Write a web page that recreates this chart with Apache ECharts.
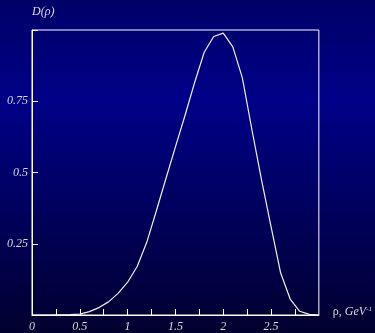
<!DOCTYPE html>
<html>
<head>
<meta charset="utf-8">
<script src="https://cdn.jsdelivr.net/npm/echarts@6/dist/echarts.min.js"></script>
<style>
  html, body { margin: 0; padding: 0; background: #000050; }
  #chart { width: 375px; height: 333px; }
</style>
</head>
<body>
<div id="chart"></div>
<script>
// rho values (GeV^-1) and the distribution D(rho)
var rhoValues = [0, 0.1, 0.2, 0.3, 0.4, 0.5, 0.6, 0.7, 0.8, 0.9, 1.0,
  1.1, 1.2, 1.3, 1.4, 1.5, 1.6, 1.7, 1.8, 1.9, 2.0,
  2.1, 2.2, 2.3, 2.4, 2.5, 2.6, 2.7, 2.8, 2.9, 3.0];
var dValues = [0, 0, 0, 0.0005, 0.001, 0.003, 0.012, 0.026, 0.046, 0.076, 0.115,
  0.17, 0.255, 0.365, 0.478, 0.59, 0.70, 0.815, 0.921, 0.977, 0.989,
  0.941, 0.832, 0.65, 0.475, 0.31, 0.148, 0.056, 0.013, 0.002, 0];
var yTicks = [0.25, 0.5, 0.75];

var chart = echarts.init(document.getElementById('chart'));
var serif = 'Liberation Serif';
var txtColor = '#dcdcdc';

var points = rhoValues.map(function (r, i) { return [r, dValues[i]]; });

chart.setOption({
  animation: false,
  backgroundColor: {
    type: 'linear', x: 0, y: 0, x2: 0, y2: 1,
    colorStops: [
      { offset: 0, color: '#000068' },
      { offset: 0.3, color: '#000088' },
      { offset: 1, color: '#00002e' }
    ]
  },
  grid: {
    left: 32, top: 30, right: 55, bottom: 16,
    show: true, borderColor: '#ffffff', borderWidth: 1,
    backgroundColor: 'transparent'
  },
  xAxis: {
    type: 'value', min: 0, max: 3, interval: 0.25,
    name: '{a|ρ, }{b|GeV}{c|-1}',
    nameLocation: 'end', nameGap: 14,
    nameTextStyle: {
      align: 'left', verticalAlign: 'middle', padding: [0, 0, 6, 0],
      rich: {
        a: { fontFamily: serif, fontSize: 12, color: txtColor },
        b: { fontFamily: serif, fontStyle: 'italic', fontSize: 12, color: txtColor },
        c: { fontFamily: serif, fontStyle: 'italic', fontSize: 7, color: txtColor, padding: [0, 0, 6, 0] }
      }
    },
    axisLine: { lineStyle: { color: '#ffffff', width: 1 } },
    axisTick: { inside: true, length: 6, lineStyle: { color: '#ffffff' } },
    axisLabel: {
      showMaxLabel: false, margin: 6,
      fontFamily: serif, fontStyle: 'italic', fontSize: 12, color: txtColor,
      formatter: function (v) { return (v % 0.5 === 0 && v < 3) ? String(v) : ''; }
    },
    splitLine: { show: false }
  },
  yAxis: {
    type: 'value', min: 0, max: 1, interval: 0.25,
    name: 'D(ρ)',
    nameLocation: 'end', nameGap: 12,
    nameTextStyle: { align: 'left', fontFamily: serif, fontStyle: 'italic', fontSize: 12, color: txtColor },
    axisLine: { show: true, lineStyle: { color: '#ffffff', width: 1 } },
    axisTick: { show: true, inside: true, length: 6, lineStyle: { color: '#ffffff' } },
    axisLabel: {
      margin: 4, padding: [0, 0, 7, 0],
      fontFamily: serif, fontStyle: 'italic', fontSize: 12, color: txtColor,
      formatter: function (v) { return yTicks.indexOf(v) >= 0 ? String(v) : ''; }
    },
    splitLine: { show: false }
  },
  series: [{
    type: 'line',
    data: points,
    showSymbol: false,
    smooth: false,
    lineStyle: { color: '#f0f0f0', width: 1.2 }
  }]
});
</script>
</body>
</html>
